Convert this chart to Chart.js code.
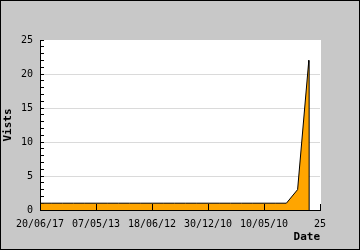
<!DOCTYPE html>
<html>
<head>
<meta charset="utf-8">
<script src="https://cdn.jsdelivr.net/npm/chart.js@4"></script>
<style>
  html, body { margin: 0; padding: 0; background: #c8c8c8; }
  canvas { display: block; }
</style>
</head>
<body>
<canvas id="visits" width="360" height="250"></canvas>
<script>
// data
const days = [0, 1, 2, 3, 4, 5, 6, 7, 8, 9, 10, 11, 12, 13, 14, 15, 16, 17, 18, 19, 20, 21, 22, 23, 24];
const visits = [1, 1, 1, 1, 1, 1, 1, 1, 1, 1, 1, 1, 1, 1, 1, 1, 1, 1, 1, 1, 1, 1, 1, 3, 22];
const tickLabels = ['20/06/17', '07/05/13', '18/06/12', '30/12/10', '10/05/10', '25'];
const yMax = 25;

const points = days.map((d, i) => ({ x: d, y: visits[i] }));
const last = days.length - 1;
// closing edge of the filled area, taken from the last point
const edge = [{ x: days[last], y: visits[last] }, { x: days[last], y: 0 }];

const frame = {
  id: 'frame',
  beforeDraw(chart) {
    const c = chart.ctx, a = chart.chartArea;
    c.save();
    c.fillStyle = '#c8c8c8';
    c.fillRect(0, 0, chart.width, chart.height);
    c.fillStyle = '#ffffff';
    c.fillRect(a.left, a.top, a.right - a.left + 1, a.bottom - a.top);
    c.restore();
  },
  afterDraw(chart) {
    const c = chart.ctx;
    c.save();
    c.strokeStyle = '#000';
    c.lineWidth = 1;
    c.strokeRect(0.5, 0.5, chart.width - 1, chart.height - 1);
    c.restore();
  }
};

const mono = 'DejaVu Sans Mono';

new Chart(document.getElementById('visits'), {
  type: 'line',
  data: {
    datasets: [
      { data: points, borderColor: '#000', borderWidth: 1, backgroundColor: '#ffa500', fill: 'origin', pointRadius: 0, tension: 0 },
      { data: edge, borderColor: '#000', borderWidth: 1, fill: false, pointRadius: 0 }
    ]
  },
  options: {
    responsive: false,
    animation: false,
    events: [],
    layout: { padding: { top: 40, right: 40, left: 0, bottom: 0 } },
    plugins: { legend: { display: false }, tooltip: { enabled: false } },
    scales: {
      x: {
        type: 'linear',
        min: 0,
        max: yMax,
        afterFit(s) { s.height = 40; },
        border: { color: '#000', width: 1, z: 1 },
        grid: { color: 'rgba(0,0,0,0)', tickColor: '#000', tickLength: -6, z: 1 },
        ticks: {
          stepSize: 5,
          autoSkip: false,
          maxRotation: 0,
          padding: 14,
          color: '#000',
          font: { family: mono, size: 10 },
          callback: (v, i) => tickLabels[i]
        },
        title: { display: true, text: 'Date', align: 'end', color: '#000', font: { family: mono, size: 11, weight: 'bold' }, padding: { top: 0, bottom: 6 } }
      },
      y: {
        min: 0,
        max: yMax,
        afterFit(s) { s.width = 40; },
        border: { color: '#000', width: 1, z: 1 },
        grid: {
          color: ctx => (ctx.tick && ctx.tick.value % 5 === 0 && ctx.tick.value > 0 && ctx.tick.value < yMax) ? '#dadada' : 'rgba(0,0,0,0)',
          tickColor: '#000',
          tickLength: -4
        },
        ticks: {
          stepSize: 1,
          autoSkip: false,
          padding: 11,
          color: '#000',
          font: { family: mono, size: 10 },
          callback: v => (v % 5 === 0 ? String(v) : '')
        },
        title: { display: true, text: 'Vists', color: '#000', font: { family: mono, size: 11, weight: 'bold' }, padding: { top: 2, bottom: 0 } }
      }
    }
  },
  plugins: [frame]
});
</script>
</body>
</html>
